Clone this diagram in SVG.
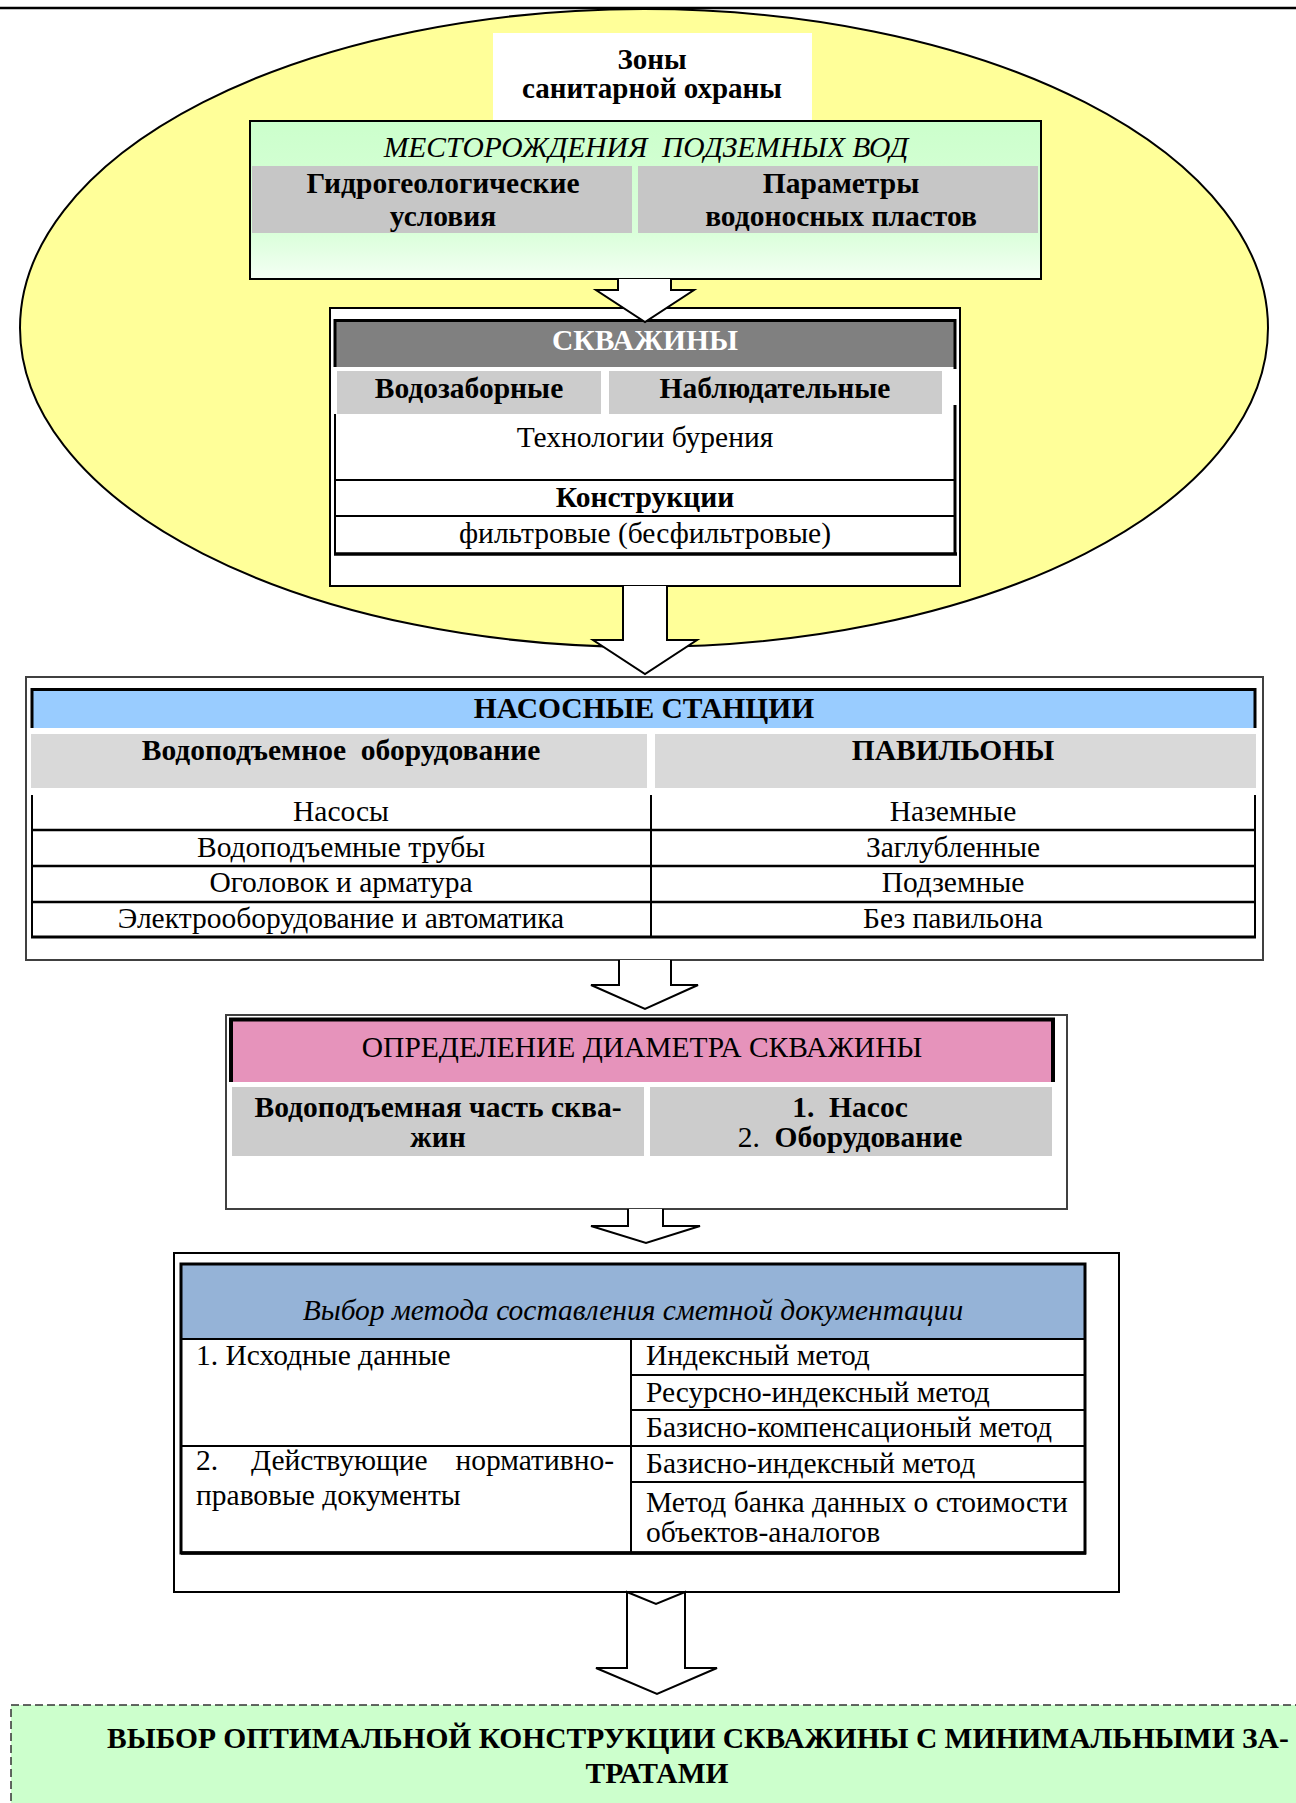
<svg xmlns="http://www.w3.org/2000/svg" width="1296" height="1803" viewBox="0 0 1296 1803">
<style>
text{font-family:"Liberation Serif","Times New Roman",serif;font-size:29.5px;fill:#000}
.b{font-weight:bold}
.i{font-style:italic}
.c{text-anchor:middle}
.e{text-anchor:end}
.w{fill:#fff}
.box{fill:#fff;stroke:#404040;stroke-width:2}
.ln{stroke:#000;fill:none}
.arrow{fill:#fff;stroke:#000;stroke-width:2;stroke-linejoin:miter}
</style>
<defs>
<linearGradient id="gg" x1="0" y1="0" x2="0" y2="1">
<stop offset="0" stop-color="#ccffcc"/>
<stop offset="0.7" stop-color="#d9ffd9"/>
<stop offset="1" stop-color="#f4fff4"/>
</linearGradient>
</defs>
<rect width="1296" height="1803" fill="#fff"/>
<line x1="0" y1="8" x2="1296" y2="8" stroke="#000" stroke-width="2.5"/>

<g id="zone">
<ellipse cx="644" cy="328" rx="624" ry="319" fill="#ffff99" stroke="#000" stroke-width="2"/>
<rect x="493" y="33" width="319" height="88" fill="#fff"/>
<text class="b c" x="652" y="69" style="font-size:29px">Зоны<tspan x="652" dy="29">санитарной охраны</tspan></text>
</g>

<g id="deposits">
<rect x="250" y="121" width="791" height="158" fill="url(#gg)" stroke="#000" stroke-width="2"/>
<rect x="252" y="166" width="380" height="67" fill="#c6c6c6"/>
<rect x="638" y="166" width="400" height="67" fill="#c6c6c6"/>
<text class="i c" x="646" y="157" xml:space="preserve">МЕСТОРОЖДЕНИЯ  ПОДЗЕМНЫХ ВОД</text>
<text class="b c" x="443" y="193">Гидрогеологические<tspan x="443" dy="33">условия</tspan></text>
<text class="b c" x="841" y="193">Параметры<tspan x="841" dy="33">водоносных пластов</tspan></text>
</g>

<g id="wells">
<rect x="330" y="308" width="630" height="278" fill="#fff" stroke="#000" stroke-width="2"/>
<rect x="334" y="320" width="622" height="47" fill="#808080"/>
<path class="ln" d="M335,367 V320.5 H955 V369" stroke-width="3"/>
<rect x="337" y="371" width="264" height="43" fill="#cccccc"/>
<rect x="609" y="371" width="333" height="43" fill="#cccccc"/>
<path class="ln" d="M335,414 V554" stroke-width="2"/>
<path class="ln" d="M955,405 V554" stroke-width="3"/>
<path class="ln" d="M334,480 H956 M334,516 H956" stroke-width="2"/>
<path class="ln" d="M334,554 H957" stroke-width="3.5"/>
<text class="b c w" x="645" y="350">СКВАЖИНЫ</text>
<text class="b c" x="469" y="398">Водозаборные</text>
<text class="b c" x="775" y="398">Наблюдательные</text>
<text class="c" x="645" y="447">Технологии бурения</text>
<text class="b c" x="645" y="507">Конструкции</text>
<text class="c" x="645" y="543">фильтровые (бесфильтровые)</text>
</g>

<g id="pumps">
<rect class="box" x="26" y="677" width="1237" height="283"/>
<rect x="31" y="689" width="1225" height="39" fill="#99ccff"/>
<path class="ln" d="M32,728 V689.5 H1255 V728" stroke-width="3"/>
<rect x="31" y="734" width="616" height="54" fill="#d9d9d9"/>
<rect x="655" y="734" width="601" height="54" fill="#d9d9d9"/>
<path class="ln" d="M32,795 V937 M651,795 V937 M1255,795 V937" stroke-width="2"/>
<path class="ln" d="M31,830 H1256 M31,866 H1256 M31,902 H1256" stroke-width="2.5"/>
<path class="ln" d="M31,937 H1256" stroke-width="3"/>
<text class="b c" x="644" y="718">НАСОСНЫЕ СТАНЦИИ</text>
<text class="b c" x="341" y="760" xml:space="preserve">Водоподъемное  оборудование</text>
<text class="b c" x="953" y="760">ПАВИЛЬОНЫ</text>
<text class="c" x="341" y="821">Насосы</text>
<text class="c" x="341" y="857">Водоподъемные трубы</text>
<text class="c" x="341" y="892">Оголовок и арматура</text>
<text class="c" x="341" y="928">Электрооборудование и автоматика</text>
<text class="c" x="953" y="821">Наземные</text>
<text class="c" x="953" y="857">Заглубленные</text>
<text class="c" x="953" y="892">Подземные</text>
<text class="c" x="953" y="928">Без павильона</text>
</g>

<g id="diameter">
<rect class="box" x="226" y="1015" width="841" height="194"/>
<rect x="230" y="1018" width="824" height="64" fill="#e693bb"/>
<path class="ln" d="M231,1082 V1019.5 H1053 V1082" stroke-width="4"/>
<rect x="232" y="1087" width="412" height="69" fill="#cccccc"/>
<rect x="650" y="1087" width="402" height="69" fill="#cccccc"/>
<text class="c" x="642" y="1057">ОПРЕДЕЛЕНИЕ ДИАМЕТРА СКВАЖИНЫ</text>
<text class="b c" x="438" y="1117">Водоподъемная часть сква-<tspan x="438" dy="30">жин</tspan></text>
<text class="c" x="850" y="1117" xml:space="preserve"><tspan class="b">1.  Насос</tspan><tspan x="850" dy="30">2.  </tspan><tspan class="b">Оборудование</tspan></text>
</g>

<g id="estimate">
<rect x="174" y="1253" width="945" height="339" fill="#fff" stroke="#000" stroke-width="2"/>
<rect x="181" y="1264" width="904" height="75" fill="#95b3d7"/>
<rect x="181" y="1264" width="904" height="289" fill="none" stroke="#000" stroke-width="3"/>
<path class="ln" d="M181,1339 H1085 M181,1446 H1085 M631,1339 V1553 M631,1375 H1085 M631,1410 H1085 M631,1482 H1085" stroke-width="2"/>
<path class="ln" d="M181,1553 H1086" stroke-width="3.5"/>
<text class="i c" x="633" y="1320">Выбор метода составления сметной документации</text>
<text x="196" y="1365">1. Исходные данные</text>
<text x="196" y="1470">2.</text>
<text x="251" y="1470">Действующие</text>
<text class="e" x="614" y="1470">нормативно-</text>
<text x="196" y="1505">правовые документы</text>
<text x="646" y="1365">Индексный метод</text>
<text x="646" y="1402">Ресурсно-индексный метод</text>
<text x="646" y="1437">Базисно-компенсационый метод</text>
<text x="646" y="1473">Базисно-индексный метод</text>
<text x="646" y="1512">Метод банка данных о стоимости<tspan x="646" dy="30">объектов-аналогов</tspan></text>
</g>

<g id="result">
<rect x="11" y="1705" width="1310" height="130" fill="#ccffcc" stroke="#333" stroke-width="1.5" stroke-dasharray="8 4"/>
<text class="b" x="107" y="1748">ВЫБОР ОПТИМАЛЬНОЙ КОНСТРУКЦИИ СКВАЖИНЫ С МИНИМАЛЬНЫМИ ЗА-</text>
<text class="b c" x="657" y="1783">ТРАТАМИ</text>
</g>

<g id="connectors">
<path class="arrow" d="M618,279 V290 H596 L645,322 L694,290 H671 V279"/>
<path class="arrow" d="M623,586 V640 H593 L645,674 L697,640 H667 V586"/>
<path class="arrow" d="M619,960 V985 H591 L645,1009 L698,985 H671 V960"/>
<path class="arrow" d="M628,1209 V1226 H591 L646,1243 L700,1226 H663 V1209"/>
<path class="arrow" d="M627,1592 L656,1604 L685,1592 V1668 H717 L657,1694 L596,1668 H627 Z"/>
</g>
</svg>
